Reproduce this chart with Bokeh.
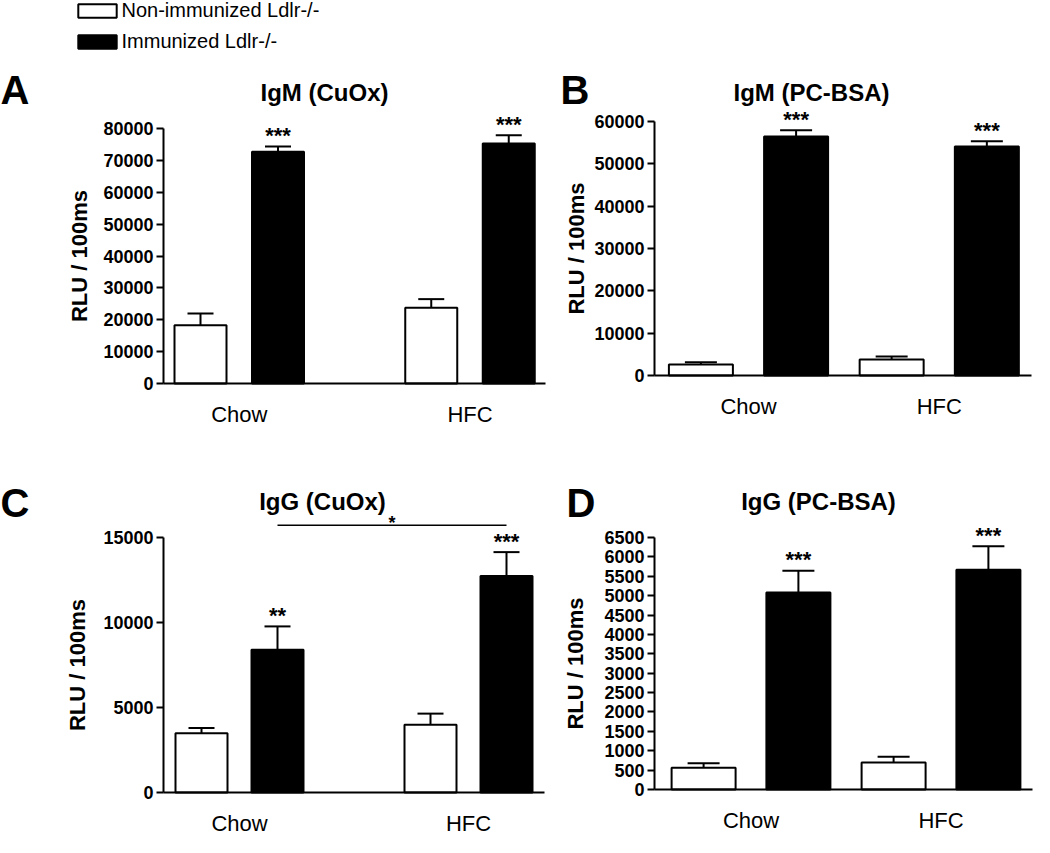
from bokeh.plotting import figure
from bokeh.models import (Range1d, ColumnDataSource, Label, Legend, LegendItem,
                          FixedTicker, NumeralTickFormatter)
from bokeh.transform import dodge
from bokeh.layouts import column, row
from bokeh.core.properties import value
from bokeh.embed import file_html
from bokeh.resources import INLINE

# ---------------- data ----------------
groups = ["Chow", "HFC"]
series_names = ["Non-immunized Ldlr-/-", "Immunized Ldlr-/-"]
y_label = "RLU / 100ms"

a_title = "IgM (CuOx)"
a_non = [18300, 23750]
a_non_err = [3650, 2720]
a_imm = [72700, 75300]
a_imm_err = [1650, 2620]
a_stars = ["***", "***"]
a_ticks = [0, 10000, 20000, 30000, 40000, 50000, 60000, 70000, 80000]

b_title = "IgM (PC-BSA)"
b_non = [2600, 3780]
b_non_err = [550, 710]
b_imm = [56460, 54090]
b_imm_err = [1500, 1270]
b_stars = ["***", "***"]
b_ticks = [0, 10000, 20000, 30000, 40000, 50000, 60000]

c_title = "IgG (CuOx)"
c_non = [3480, 3990]
c_non_err = [310, 650]
c_imm = [8390, 12740]
c_imm_err = [1380, 1400]
c_stars = ["**", "***"]
c_ticks = [0, 5000, 10000, 15000]
c_bracket_y = [15720]
c_bracket_text = ["*"]

d_title = "IgG (PC-BSA)"
d_non = [560, 697]
d_non_err = [120, 147]
d_imm = [5080, 5665]
d_imm_err = [560, 610]
d_stars = ["***", "***"]
d_ticks = [0, 500, 1000, 1500, 2000, 2500, 3000, 3500, 4000, 4500, 5000, 5500, 6000, 6500]

FONT = "Liberation Sans"


def make_panel(letter, title, non, non_err, imm, imm_err, stars, ticks, *, ox, oy, width, height,
               yaxis_px, xend_px, base_px, top_px, g0_px, unit_px, bw_px, off_px, cap_px,
               ylab_standoff, letter_xy, title_xy, bracket=None, legend_box=None):
    # page pixel geometry -> data ranges (the whole canvas is the plot frame)
    k = ticks[-1] / (base_px - top_px)
    y_start = -(oy + height - base_px) * k
    y_end = (base_px - oy) * k
    x_start = -(g0_px - ox) / unit_px
    x_end = (ox + width - g0_px) / unit_px
    bw = bw_px / unit_px
    off = off_px / unit_px
    cap = cap_px / unit_px

    p = figure(width=width, height=height, x_range=Range1d(x_start, x_end),
               y_range=Range1d(y_start, y_end), output_backend="svg", toolbar_location=None,
               min_border_left=0, min_border_right=0, min_border_top=0, min_border_bottom=0)
    p.title.visible = False
    p.outline_line_color = None
    p.xgrid.visible = False
    p.ygrid.visible = False
    p.background_fill_color = "white"
    p.border_fill_color = "white"

    pos = list(range(len(groups)))
    src = ColumnDataSource(dict(
        pos=pos, non=non, imm=imm,
        non_up=[m + e for m, e in zip(non, non_err)],
        imm_up=[m + e for m, e in zip(imm, imm_err)],
        stars=stars))

    r_non = p.vbar(x=dodge("pos", -off, range=p.x_range), top="non", width=bw, source=src,
                   fill_color="white", line_color="black", line_width=2)
    r_imm = p.vbar(x=dodge("pos", off, range=p.x_range), top="imm", width=bw, source=src,
                   fill_color="black", line_color="black", line_width=2)

    # error bars (upper only, with cap)
    for lo, up, d in (("non", "non_up", -off), ("imm", "imm_up", off)):
        p.segment(x0=dodge("pos", d, range=p.x_range), y0=lo,
                  x1=dodge("pos", d, range=p.x_range), y1=up,
                  source=src, line_color="black", line_width=2)
        p.segment(x0=dodge("pos", d - cap, range=p.x_range), y0=up,
                  x1=dodge("pos", d + cap, range=p.x_range), y1=up,
                  source=src, line_color="black", line_width=2)

    p.text(x=dodge("pos", off, range=p.x_range), y="imm_up", text="stars", source=src,
           text_font=value(FONT), text_font_size=value("22px"), text_font_style="bold",
           text_align="center", text_baseline="alphabetic", y_offset=-11, text_color="black")

    if bracket is not None:
        by, bt = bracket
        bsrc = ColumnDataSource(dict(x0=[pos[0]], x1=[pos[1]], y=by, t=bt))
        p.segment(x0=dodge("x0", off, range=p.x_range), y0="y",
                  x1=dodge("x1", off, range=p.x_range), y1="y", source=bsrc,
                  line_color="black", line_width=1.5)
        p.text(x=dodge("x1", off - 0.5, range=p.x_range), y="y", text="t", source=bsrc,
               text_font=value(FONT), text_font_size=value("18px"), text_font_style="bold",
               text_align="center", text_baseline="alphabetic", y_offset=-2, text_color="black")

    # y axis, fixed at the left edge of the bar area
    ya = p.yaxis[0]
    ya.fixed_location = (yaxis_px - g0_px) / unit_px
    ya.ticker = FixedTicker(ticks=ticks)
    ya.formatter = NumeralTickFormatter(format="0")
    ya.bounds = (0, ticks[-1])
    ya.axis_label = y_label
    ya.axis_label_text_font = FONT
    ya.axis_label_text_font_size = "22px"
    ya.axis_label_text_font_style = "bold"
    ya.axis_label_text_color = "black"
    ya.axis_label_standoff = ylab_standoff
    ya.major_label_text_font = FONT
    ya.major_label_text_font_size = "18px"
    ya.major_label_text_font_style = "bold"
    ya.major_label_text_color = "black"
    ya.major_label_standoff = 3
    ya.major_tick_out = 7
    ya.major_tick_in = 0
    ya.minor_tick_out = 0
    ya.minor_tick_in = 0
    ya.minor_tick_line_color = None
    ya.axis_line_width = 2
    ya.major_tick_line_width = 2
    ya.axis_line_color = "black"
    ya.major_tick_line_color = "black"

    # x axis at y = 0 with the group names
    xa = p.xaxis[0]
    xa.fixed_location = 0
    xa.ticker = FixedTicker(ticks=pos)
    xa.major_label_overrides = {i: g for i, g in zip(pos, groups)}
    xa.bounds = ((yaxis_px - g0_px) / unit_px, (xend_px - g0_px) / unit_px)
    xa.axis_line_width = 2
    xa.axis_line_color = "black"
    xa.major_tick_line_color = None
    xa.minor_tick_line_color = None
    xa.major_tick_out = 0
    xa.major_tick_in = 0
    xa.minor_tick_out = 0
    xa.minor_tick_in = 0
    xa.major_label_text_font = FONT
    xa.major_label_text_font_size = "22px"
    xa.major_label_text_font_style = "normal"
    xa.major_label_text_color = "black"
    xa.major_label_standoff = 18

    def cv(sx, sy):
        return dict(x=sx - ox, y=sy - oy, x_units="canvas", y_units="canvas")

    p.add_layout(Label(**cv(*title_xy), text=title, text_font=FONT, text_font_size="24px",
                       text_font_style="bold", text_align="center", text_baseline="middle",
                       text_color="black"))
    p.add_layout(Label(**cv(*letter_xy), text=letter, text_font=FONT, text_font_size="40px",
                       text_font_style="bold", text_align="left", text_baseline="middle",
                       text_color="black"))

    if legend_box is not None:
        lx, lb = legend_box  # left edge and bottom edge of the legend box (page px)
        leg = Legend(items=[LegendItem(label=series_names[0], renderers=[r_non]),
                            LegendItem(label=series_names[1], renderers=[r_imm])],
                     location=(lx - ox, oy + height - lb), orientation="vertical",
                     glyph_width=48, glyph_height=17, label_height=17, label_standoff=1,
                     spacing=8, padding=0, margin=0,
                     label_text_font=FONT, label_text_font_size="20px", label_text_color="black",
                     border_line_color=None, background_fill_alpha=0)
        p.add_layout(leg)
    return p


pa = make_panel("A", a_title, a_non, a_non_err, a_imm, a_imm_err, a_stars, a_ticks,
                ox=0, oy=0, width=552, height=430,
                yaxis_px=163, xend_px=545, base_px=383, top_px=128,
                g0_px=238.75, unit_px=230.75, bw_px=52, off_px=38.75, cap_px=13,
                ylab_standoff=8, letter_xy=(0, 89.5), title_xy=(324, 92),
                legend_box=(72.5, 52.5))
pb = make_panel("B", b_title, b_non, b_non_err, b_imm, b_imm_err, b_stars, b_ticks,
                ox=552, oy=0, width=482, height=430,
                yaxis_px=654, xend_px=1031, base_px=375, top_px=121,
                g0_px=748, unit_px=190.75, bw_px=64, off_px=47.6, cap_px=16,
                ylab_standoff=2, letter_xy=(560, 89.5), title_xy=(811, 92))
pc = make_panel("C", c_title, c_non, c_non_err, c_imm, c_imm_err, c_stars, c_ticks,
                ox=0, oy=430, width=552, height=406,
                yaxis_px=163, xend_px=544, base_px=792, top_px=537,
                g0_px=239, unit_px=229, bw_px=52, off_px=38, cap_px=13,
                ylab_standoff=10, letter_xy=(0, 502.7), title_xy=(322, 501.4),
                bracket=(c_bracket_y, c_bracket_text))
pd_ = make_panel("D", d_title, d_non, d_non_err, d_imm, d_imm_err, d_stars, d_ticks,
                 ox=552, oy=430, width=482, height=406,
                 yaxis_px=654, xend_px=1032, base_px=789, top_px=537,
                 g0_px=750.5, unit_px=190, bw_px=64, off_px=47.4, cap_px=16,
                 ylab_standoff=13, letter_xy=(566, 502.7), title_xy=(818, 501.4))

layout = column(row(pa, pb), row(pc, pd_))
open("out.html", "w").write(file_html(layout, INLINE))
